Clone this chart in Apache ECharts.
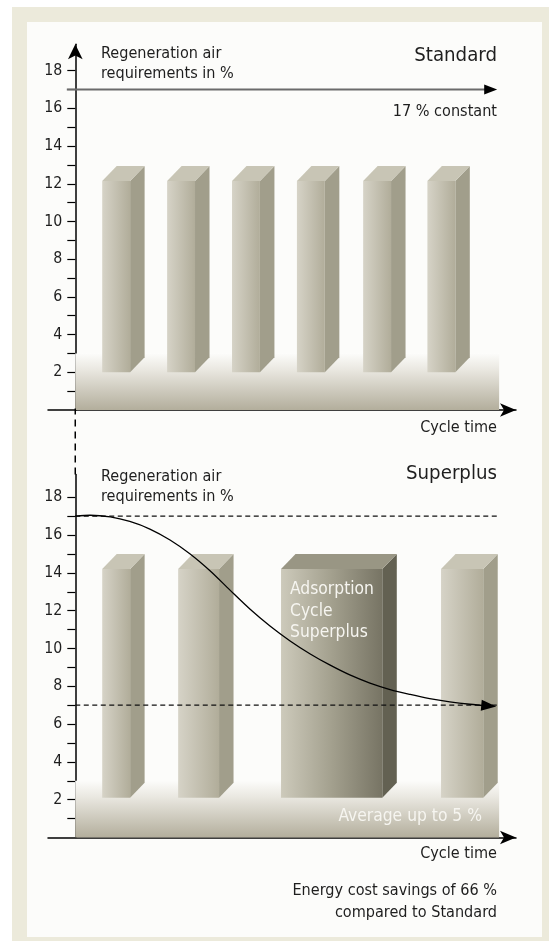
<!DOCTYPE html>
<html>
<head>
<meta charset="utf-8">
<script src="https://cdn.jsdelivr.net/npm/echarts@6/dist/echarts.min.js"></script>
<style>
  html, body { margin: 0; padding: 0; background: #ffffff; }
  #frame { position: absolute; left: 12px; top: 7px; width: 537px; height: 934px; background: #ECEADB; }
  #panel { position: absolute; left: 27px; top: 22px; width: 515px; height: 915px; background: #FCFCFA; }
  #chart { position: absolute; left: 0; top: 0; width: 549px; height: 941px; }
</style>
</head>
<body>
<div id="frame"></div>
<div id="panel"></div>
<div id="chart"></div>

<script type="text/javascript">
    // ---- data (cycle time in arbitrary units, requirement in %) ----
    var tickValues = [1, 2, 3, 4, 5, 6, 7, 8, 9, 10, 11, 12, 13, 14, 15, 16, 17, 18];
    var tickLabels = [2, 4, 6, 8, 10, 12, 14, 16, 18];

    // Standard: six short adsorption cycles
    var topBarCenter = [0.63, 1.63, 2.63, 3.63, 4.65, 5.64];
    var topBarWidth = [0.43, 0.43, 0.43, 0.43, 0.43, 0.43];
    var topBarLow = [2, 2, 2, 2, 2, 2];
    var topBarHigh = [12.15, 12.15, 12.15, 12.15, 12.15, 12.15];
    var topConstant = [[-0.13, 17], [6.40, 17]];

    // Superplus: variable adsorption cycles
    var botBarCenter = [0.63, 1.90, 3.95, 5.96];
    var botBarWidth = [0.43, 0.63, 1.56, 0.65];
    var botBarLow = [2.1, 2.1, 2.1, 2.1];
    var botBarHigh = [14.2, 14.2, 14.2, 14.2];
    var botBarLabel = ['', '', 'Adsorption\nCycle\nSuperplus', ''];
    var botCurveX = [0, 0.23, 0.54, 0.84, 1.15, 1.46, 1.77, 2.08, 2.38, 2.69, 3.0,
                     3.31, 3.62, 3.92, 4.23, 4.54, 4.85, 5.16, 5.46, 5.77, 6.08, 6.37];
    var botCurveY = [17.0, 17.05, 16.96, 16.72, 16.32, 15.74, 15.0, 14.1, 13.1, 12.09, 11.19,
                     10.4, 9.71, 9.13, 8.6, 8.17, 7.83, 7.57, 7.35, 7.18, 7.05, 6.96];
    var botRefStandard = [[0, 17], [6.50, 17]];
    var botRefAverage = [[0, 7], [6.50, 7]];
    var baseBand = [[0, 6.53, 0, 3]];
    var connector = [[0, 19.2], [0, 22.7]];

    // ---- pick a narrow font that is really installed ----
    var ctx = document.createElement('canvas').getContext('2d');
    function measure(text, font) { ctx.font = font; return ctx.measureText(text).width; }
    function hasFont(name) {
        var s = 'Regeneration air 0123456789 %';
        return measure(s, '40px "' + name + '", monospace') !== measure(s, '40px monospace') ||
               measure(s, '40px "' + name + '", serif') !== measure(s, '40px serif');
    }
    var FAMILY = ['Liberation Sans Narrow', 'DejaVu Sans Condensed', 'Roboto', 'Liberation Sans'].filter(hasFont)[0] || 'sans-serif';
    var FONT = '"' + FAMILY + '", sans-serif';
    function fit(text, width) { return 100 * width / measure(text, '100px ' + FONT); }

    var SZ_TEXT = 1.07 * (fit('Regeneration air', 112.5) + fit('Energy cost savings of 66 %', 192.5) + fit('Cycle time', 71.3)) / 3;
    var SZ_TITLE = 1.05 * (fit('Standard', 77.7) + fit('Superplus', 88)) / 2;
    var SZ_TICK = 1.08 * fit('18', 16.7);
    var SZ_WHITE = 1.04 * (fit('Average up to 5 %', 136.5) + fit('Adsorption', 81.7)) / 2;

    var DX = 14.5, DY = 15;

    function blockData(center, width, low, high, labels) {
        var out = [];
        for (var i = 0; i < center.length; i++) {
            out.push([center[i], width[i], low[i], high[i], labels && labels[i] ? 1 : 0, labels ? labels[i] : '']);
        }
        return out;
    }

    function pairs(xs, ys) {
        return xs.map(function (x, i) { return [x, ys[i]]; });
    }

    function renderBand(params, api) {
        var p0 = api.coord([api.value(0), api.value(3)]);
        var p1 = api.coord([api.value(1), api.value(2)]);
        return {
            type: 'rect',
            shape: {x: p0[0], y: p0[1], width: p1[0] - p0[0], height: p1[1] - p0[1]},
            style: {
                fill: new echarts.graphic.LinearGradient(0, 0, 0, 1, [
                    {offset: 0, color: '#FCFCFA'},
                    {offset: 0.28, color: '#EAE8E1'},
                    {offset: 1, color: '#B3AE9C'}
                ])
            }
        };
    }

    function renderBlock(params, api) {
        var cx = api.value(0), w = api.value(1);
        var dark = api.value(4) === 1;
        var text = api.value(5);
        var p0 = api.coord([cx - w / 2, api.value(2)]);
        var p1 = api.coord([cx + w / 2, api.value(3)]);
        var x0 = p0[0], x1 = p1[0], yb = p0[1], yt = p1[1];
        var front = dark
            ? new echarts.graphic.LinearGradient(0, 0, 1, 0, [
                {offset: 0, color: '#CDCABB'}, {offset: 0.5, color: '#A3A08E'}, {offset: 1, color: '#777464'}])
            : new echarts.graphic.LinearGradient(0, 0, 1, 0, [
                {offset: 0, color: '#D6D3C7'}, {offset: 1, color: '#B1AD9A'}]);
        var children = [
            {type: 'polygon', shape: {points: [[x1, yb], [x1 + DX, yb - DY], [x1 + DX, yt - DY], [x1, yt]]},
             style: {fill: dark ? '#636152' : '#A19E8B'}},
            {type: 'polygon', shape: {points: [[x0, yt], [x1, yt], [x1 + DX, yt - DY], [x0 + DX, yt - DY]]},
             style: {fill: dark ? '#999684' : '#C8C5B5'}},
            {type: 'rect', shape: {x: x0, y: yt, width: x1 - x0, height: yb - yt}, style: {fill: front}}
        ];
        if (text) {
            children.push({
                type: 'text', x: x0 + 9, y: yt + 10,
                style: {text: text, fill: '#F6F5F0', fontSize: SZ_WHITE, fontFamily: FAMILY, lineHeight: 21.5,
                        align: 'left', verticalAlign: 'top'}
            });
        }
        return {type: 'group', children: children};
    }

    function arrowEnd(n) {
        return function (v, p) { return p.dataIndex === n - 1 ? 'triangle' : 'none'; };
    }

    function xAxisOpt(gi) {
        return {
            gridIndex: gi, type: 'value', min: -0.42, max: 6.79,
            axisLine: {onZero: false, symbol: ['none', 'arrow'], symbolSize: [10, 16],
                       lineStyle: {color: '#000', width: 1.5}},
            axisTick: {show: false}, axisLabel: {show: false}, splitLine: {show: false}
        };
    }

    // y axis sits at cycle time 0, i.e. 27 px inside the grid's left edge
    function yAxisOpt(gi, max, arrow) {
        return {
            gridIndex: gi, type: 'value', min: 0, max: max, offset: -27.3,
            axisLine: {show: true, onZero: false, symbol: arrow ? ['none', 'arrow'] : 'none', symbolSize: [11, 15],
                       lineStyle: {color: '#000', width: 1.5}},
            axisTick: {show: true, customValues: tickValues, length: 8, lineStyle: {color: '#000', width: 1.2}},
            axisLabel: {show: true, customValues: tickLabels, margin: 13, fontSize: SZ_TICK, color: '#1E1E1E', fontFamily: FAMILY},
            splitLine: {show: false}
        };
    }

    function label(text, x, y, size, align, color) {
        return {
            type: 'text', x: x, y: y, z: 50,
            style: {text: text, fontSize: size, fontFamily: FAMILY, fill: color || '#1E1E1E',
                    align: align, verticalAlign: 'middle'}
        };
    }

    function block(text, x, y, align, lh) {
        return {
            type: 'text', x: x, y: y, z: 50,
            style: {text: text, fontSize: SZ_TEXT, fontFamily: FAMILY, fill: '#1E1E1E',
                    align: align, verticalAlign: 'top', lineHeight: lh}
        };
    }

    var curveData = pairs(botCurveX, botCurveY);

    var chart = echarts.init(document.getElementById('chart'));
    var option = {
        animation: false,
        grid: [
            {left: 48, right: 33, top: 44.3, bottom: 531, outerBoundsMode: 'none'},
            {left: 48, right: 33, top: 474.6, bottom: 103.5, outerBoundsMode: 'none'}
        ],
        xAxis: [xAxisOpt(0), xAxisOpt(1)],
        yAxis: [yAxisOpt(0, 19.4, true), yAxisOpt(1, 19.2, false)],
        series: [
            {type: 'custom', xAxisIndex: 0, yAxisIndex: 0, z: 1, renderItem: renderBand, data: baseBand,
             encode: {x: [0, 1], y: [2, 3]}},
            {type: 'custom', xAxisIndex: 0, yAxisIndex: 0, z: 2, renderItem: renderBlock,
             data: blockData(topBarCenter, topBarWidth, topBarLow, topBarHigh), encode: {x: 0, y: [2, 3]}},
            {type: 'line', xAxisIndex: 0, yAxisIndex: 0, z: 5, data: topConstant, clip: false,
             symbol: arrowEnd(topConstant.length), symbolSize: [10, 13], symbolRotate: -90, showSymbol: true,
             lineStyle: {color: '#6B6B6B', width: 2}, itemStyle: {color: '#000'}},

            {type: 'custom', xAxisIndex: 1, yAxisIndex: 1, z: 1, renderItem: renderBand, data: baseBand,
             encode: {x: [0, 1], y: [2, 3]}},
            {type: 'custom', xAxisIndex: 1, yAxisIndex: 1, z: 2, renderItem: renderBlock,
             data: blockData(botBarCenter, botBarWidth, botBarLow, botBarHigh, botBarLabel), encode: {x: 0, y: [2, 3]}},
            {type: 'line', xAxisIndex: 1, yAxisIndex: 1, z: 4, data: botRefStandard, symbol: 'none',
             lineStyle: {color: '#111', width: 1.2, type: [5, 3.5]}},
            {type: 'line', xAxisIndex: 1, yAxisIndex: 1, z: 4, data: botRefAverage, symbol: 'none',
             lineStyle: {color: '#111', width: 1.2, type: [5, 3.5]}},
            {type: 'line', xAxisIndex: 1, yAxisIndex: 1, z: 5, data: curveData, smooth: 0.3,
             clip: false, symbol: arrowEnd(curveData.length), symbolSize: [11, 15], symbolRotate: -95, showSymbol: true,
             lineStyle: {color: '#000', width: 1.3}, itemStyle: {color: '#000'}},
            {type: 'line', xAxisIndex: 1, yAxisIndex: 1, z: 4, data: connector, symbol: 'none', clip: false,
             lineStyle: {color: '#000', width: 1.5, type: [7, 5]}}
        ],
        graphic: [
            block('Regeneration air\nrequirements in %', 101, 44, 'left', 20),
            label('Standard', 497, 56, SZ_TITLE, 'right'),
            label('17 % constant', 497, 112, SZ_TEXT, 'right'),
            label('Cycle time', 497, 428, SZ_TEXT, 'right'),
            block('Regeneration air\nrequirements in %', 101, 467, 'left', 20),
            label('Superplus', 497, 474, SZ_TITLE, 'right'),
            label('Average up to 5 %', 482, 817, SZ_WHITE, 'right', '#F6F5F0'),
            label('Cycle time', 497, 854, SZ_TEXT, 'right'),
            block('Energy cost savings of 66 %\ncompared to Standard', 497, 880, 'right', 22)
        ]
    };
    chart.setOption(option);
</script>
</body>
</html>
